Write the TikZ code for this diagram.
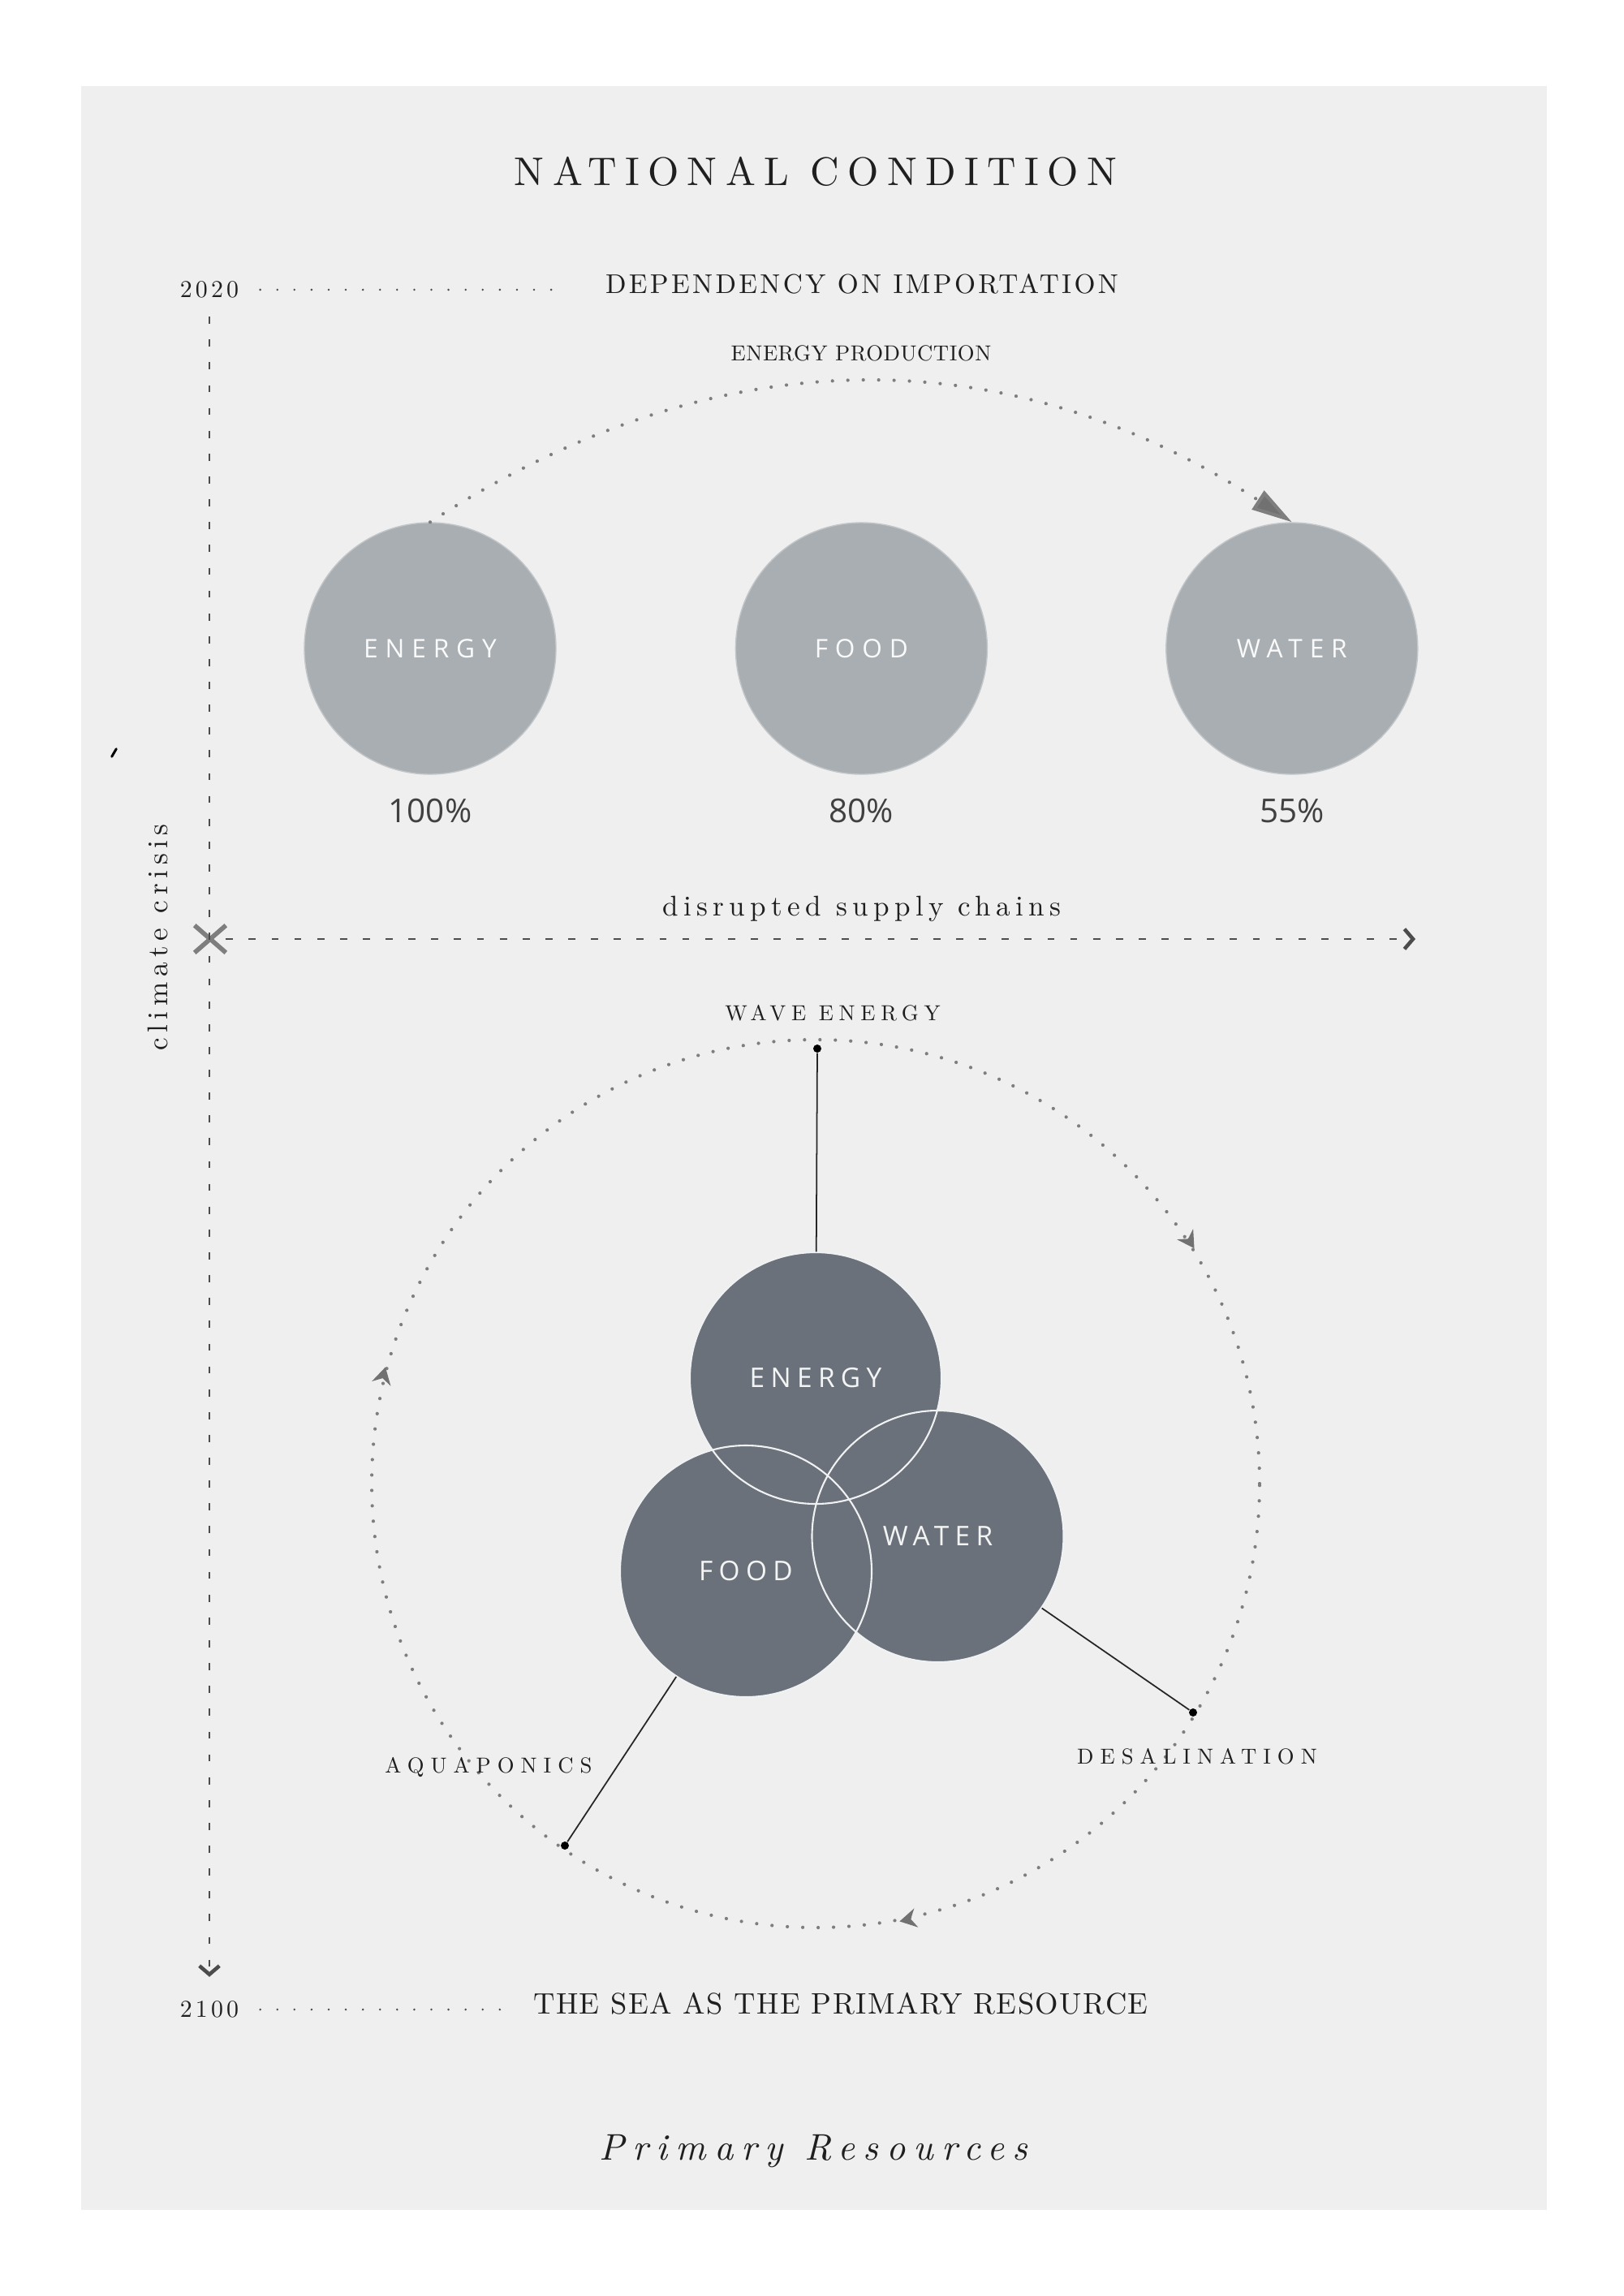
\documentclass[tikz,border=0pt]{standalone}
\usepackage{fontspec}
\usepackage{xcolor}
\usetikzlibrary{positioning, arrows.meta, shapes.misc}
\setmainfont{lmroman10}[Extension=.otf, UprightFont=*-regular, ItalicFont=*-italic, BoldFont=*-bold, BoldItalicFont=*-bolditalic]
\newfontfamily\dinfont{Open Sans}
\newcommand{\trk}[2]{{\addfontfeature{LetterSpace=#1}#2}}
\definecolor{paper}{HTML}{EFEFEF}
\definecolor{mist}{HTML}{A8AEB2}
\definecolor{slate}{HTML}{6B717A}
\definecolor{dotgray}{HTML}{7E7E7E}
\tikzstyle{oldres} = [circle, minimum size=3.1cm, inner sep=0pt, fill=mist, draw=mist!70!white, text=white!94!mist, font=\dinfont\fontsize{9}{11}\selectfont]
\tikzstyle{newres} = [circle, minimum size=3.1cm, inner sep=0pt, fill=slate, text=white!92!slate, font=\dinfont\fontsize{9.5}{11}\selectfont]
\tikzstyle{pct} = [text=black!75, font=\dinfont\fontsize{11.5}{13}\selectfont]
\tikzstyle{caps} = [inner sep=0pt, text=black!88, font=\fontsize{7.6}{9}\selectfont]
\tikzstyle{dots} = [dotgray, line width=1.2pt, line cap=round, dash pattern=on 0pt off 5.4pt]
\tikzstyle{leader} = [black!70, line width=0.8pt, line cap=round, dash pattern=on 0pt off 6pt]
\tikzstyle{timeline} = [black!70, line width=0.45pt, dash pattern=on 2.5pt off 5.5pt]
\tikzstyle{pin} = [circle, fill=black, minimum size=0.1cm, inner sep=0pt]
\tikzstyle{stem} = [black!85, line width=0.5pt]
\tikzstyle{barb} = [-{Straight Barb[length=3pt, width=7pt, line width=1.3pt]}]
\tikzset{chev/.pic={\fill[dotgray!90!black] (0.11,0) -- (-0.1,0.12) -- (-0.03,0) -- (-0.1,-0.12) -- cycle;}}

\begin{document}
\begin{tikzpicture}
\useasboundingbox (0,0) rectangle (20,-28.29);
\fill[white] (0,0) rectangle (20,-28.29);
\fill[paper] (0.995,-1.06) rectangle (19.06,-27.23);

\node (title) [text=black!88, font=\fontsize{14}{16}\selectfont] at (10.05,-2.11) {\trk{21}{NATIONAL CONDITION}};
\node (y2020) [text=black!88, font=\fontsize{8.5}{10}\selectfont] at (2.58,-3.57) {\trk{14}{2020}};
\coordinate (y2020line) at (6.94,-3.57);
\node (depend) [text=black!88, font=\fontsize{9.5}{11}\selectfont] at (10.62,-3.50) {\trk{10}{DEPENDENCY ON IMPORTATION}};
\node (prodlbl) [caps] at (10.61,-4.35) {\trk{2}{ENERGY PRODUCTION}};

\node (tenergy) [oldres] at (5.30,-7.99) {\trk{28}{ENERGY}};
\node (tfood) [oldres, right=2.2cm of tenergy] {\trk{28}{FOOD}};
\node (twater) [oldres, right=2.19cm of tfood] {\trk{28}{WATER}};
\node (penergy) [pct] at (tenergy |- 0,-9.99) {100\%};
\node (pfood) [pct] at (tfood |- 0,-9.99) {80\%};
\node (pwater) [pct] at (twater |- 0,-9.99) {55\%};
\draw[dots, -{Triangle[length=0.5cm, width=0.27cm, fill=dotgray!90!black]}] (tenergy.north) .. controls +(3.52,2.29) and +(-3.52,2.29) .. (twater.north);

\draw[black, line width=0.85pt, line cap=round] (1.377,-9.323) -- (1.433,-9.227);
\node (crisislbl) [rotate=90, text=black!88, font=\fontsize{10}{12}\selectfont] at (1.94,-11.55) {\trk{19}{climate crisis}};
\node (crisis) [cross out, draw=dotgray, line width=1.6pt, minimum width=0.33cm, minimum height=0.28cm, inner sep=0pt] at (2.59,-11.57) {};
\coordinate (chainend) at (17.44,-11.57);
\node (chains) [text=black!88, font=\fontsize{10}{12}\selectfont] at (10.62,-11.20) {\trk{18}{disrupted supply chains}};
\draw[timeline, barb] (crisis) -- (chainend);

\node (seaorbit) [circle, minimum size=10.94cm, draw, dots] at (10.05,-18.28) {};
\pic[rotate=76] at (seaorbit.166) {chev};
\pic[rotate=-57] at (seaorbit.33) {chev};
\pic[rotate=192] at (seaorbit.-78) {chev};

\node (venergy) [newres] at (10.05,-16.98) {\trk{22}{ENERGY}};
\node (vwater) [newres] at (11.555,-18.93) {\trk{22}{WATER}};
\node (vfood) [newres] at (9.19,-19.36) {\trk{22}{FOOD}};
\foreach \n in {venergy,vwater,vfood}
  \draw[white!90!slate, line width=0.6pt] (\n) circle[radius=1.55cm];

\node (wavept) [pin] at (10.07,-12.92) {};
\node (desalpt) [pin] at (14.70,-21.10) {};
\node (aquapt) [pin] at (6.96,-22.74) {};
\node (wavelbl) [caps] at (10.26,-12.48) {\trk{25}{WAVE ENERGY}};
\node (desallbl) [caps] at (14.75,-21.64) {\trk{30}{DESALINATION}};
\node (aqualbl) [caps] at (6.02,-21.78) {\trk{30}{AQUAPONICS}};
\draw[stem] (wavept) -- (venergy);
\draw[stem] (desalpt) -- (vwater);
\draw[stem] (aquapt) -- (vfood);

\node (y2100) [text=black!88, font=\fontsize{8.5}{10}\selectfont] at (2.58,-24.76) {\trk{14}{2100}};
\coordinate (y2100line) at (6.23,-24.76);
\node (sealbl) [text=black!88, font=\fontsize{10.4}{12}\selectfont] at (10.36,-24.69) {\trk{4}{THE SEA AS THE PRIMARY RESOURCE}};
\draw[timeline, barb] ([yshift=-3pt]y2020.south) -- ([yshift=5pt]y2100.north);
\draw[leader] ([xshift=4pt]y2020.east) -- (y2020line);
\draw[leader] ([xshift=4pt]y2100.east) -- (y2100line);

\node (footer) [text=black!88, font=\itshape\fontsize{13}{15}\selectfont] at (10.02,-26.51) {\trk{22}{Primary Resources}};
\end{tikzpicture}
\end{document}
